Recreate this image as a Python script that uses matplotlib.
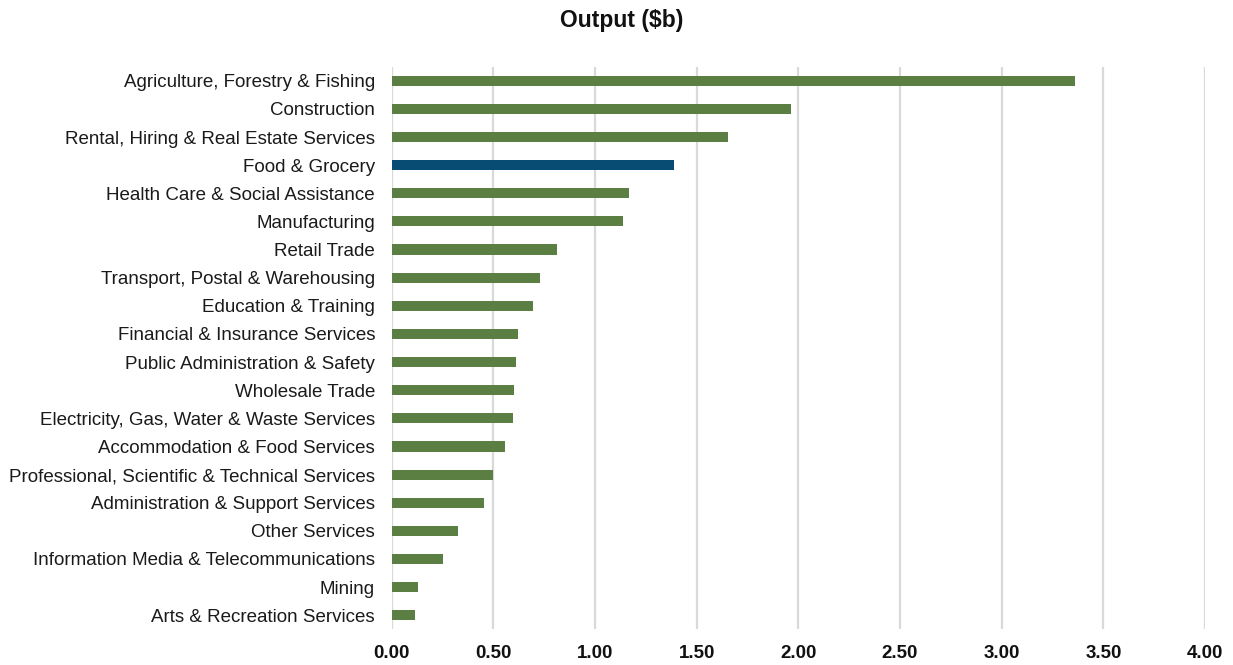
import matplotlib
matplotlib.use("Agg")
import matplotlib.pyplot as plt

categories = [
    "Agriculture, Forestry & Fishing",
    "Construction",
    "Rental, Hiring & Real Estate Services",
    "Food & Grocery",
    "Health Care & Social Assistance",
    "Manufacturing",
    "Retail Trade",
    "Transport, Postal & Warehousing",
    "Education & Training",
    "Financial & Insurance Services",
    "Public Administration & Safety",
    "Wholesale Trade",
    "Electricity, Gas, Water & Waste Services",
    "Accommodation & Food Services",
    "Professional, Scientific & Technical Services",
    "Administration & Support Services",
    "Other Services",
    "Information Media & Telecommunications",
    "Mining",
    "Arts & Recreation Services",
]
values = [3.36, 1.963, 1.654, 1.389, 1.166, 1.138, 0.812, 0.730, 0.695, 0.623,
          0.610, 0.601, 0.598, 0.559, 0.498, 0.454, 0.324, 0.254, 0.129, 0.113]
highlight = "Food & Grocery"
xticks = [0.0, 0.5, 1.0, 1.5, 2.0, 2.5, 3.0, 3.5, 4.0]

plt.rcParams['font.family'] = ['Liberation Sans', 'DejaVu Sans']

GREEN = "#5B7E43"
BLUE = "#084B73"

fig = plt.figure(figsize=(12.33, 6.65), dpi=100)
ax = fig.add_axes([391.7/1233, 1 - 629.3/665, (1205 - 391.7)/1233, (629.3 - 66.7)/665])

ypos = list(range(len(categories)))
colors = [BLUE if c == highlight else GREEN for c in categories]
ax.barh(ypos, values, height=0.36, color=colors, zorder=3)

ax.set_ylim(len(categories) - 0.5, -0.5)
ax.set_xlim(0, 4.0)
ax.set_yticks(ypos)
ax.set_yticklabels(categories, fontsize=13.5, color="#1a1a1a")
ax.set_xticks(xticks)
ax.set_xticklabels([f"{t:.2f}" for t in xticks], fontsize=13.5, fontweight="bold", color="#111111")
ax.tick_params(axis="y", length=0, pad=12)
ax.tick_params(axis="x", length=0, pad=11)
ax.grid(axis="x", color="#D9D9D9", linewidth=1.6, zorder=0)
for s in ax.spines.values():
    s.set_visible(False)

fig.text(621.5/1233, 1 - 20/665, "Output ($b)", ha="center", va="center",
         fontsize=16.5, fontweight="bold", color="#111111")

fig.savefig("out.png", dpi=100)
